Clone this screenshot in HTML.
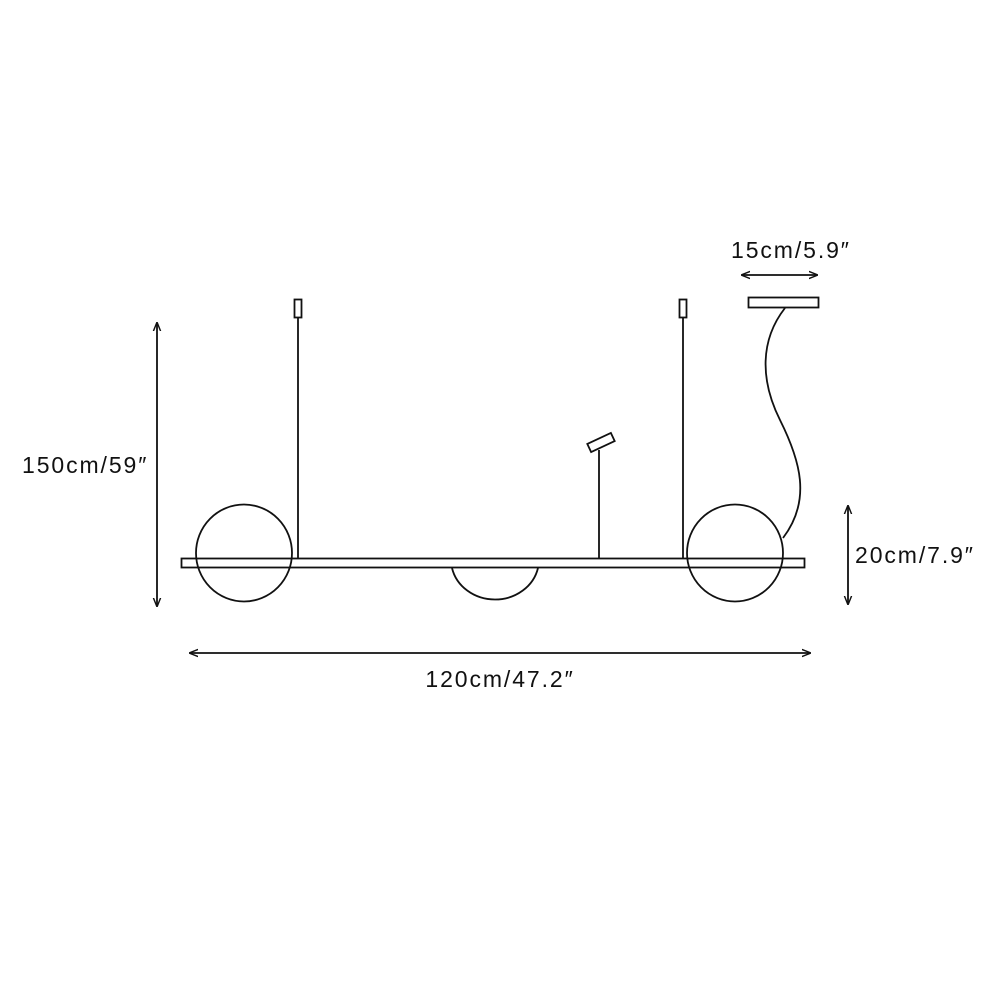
<!DOCTYPE html>
<html><head><style>
html,body{margin:0;padding:0;background:#fff;}
svg{display:block;}
text{font-family:"Liberation Sans",sans-serif;font-size:23px;letter-spacing:1.9px;fill:#111;}
</style></head><body>
<svg width="990" height="990" viewBox="0 0 990 990" xmlns="http://www.w3.org/2000/svg">
<defs>
<marker id="a" viewBox="0 0 10 10" refX="9" refY="5" markerWidth="9" markerHeight="9" orient="auto-start-reverse" markerUnits="userSpaceOnUse">
<path d="M0,1 L10,5 L0,9" fill="none" stroke="#111" stroke-width="1.6"/>
</marker>
</defs>
<g fill="none" stroke="#111" stroke-width="1.8">
<rect x="181.5" y="558.5" width="623" height="9"/>
<ellipse cx="244" cy="553" rx="48" ry="48.5"/>
<ellipse cx="735" cy="553" rx="48" ry="48.5"/>
<path d="M452,568 A44,40 0 0 0 538,568"/>
<line x1="298" y1="318" x2="298" y2="558"/>
<rect x="294.5" y="299.5" width="7" height="18"/>
<line x1="683" y1="318" x2="683" y2="558"/>
<rect x="679.5" y="299.5" width="7" height="18"/>
<line x1="599" y1="450" x2="599" y2="558"/>
<rect x="588" y="438" width="26" height="9" transform="rotate(-25 601 442.5)"/>
<rect x="748.5" y="297.5" width="70" height="10"/>
<path d="M785,308 C760,340 760,380 780,420 C800,460 812,500 783,538"/>
<line x1="157" y1="323" x2="157" y2="606" marker-start="url(#a)" marker-end="url(#a)"/>
<line x1="190" y1="653" x2="810" y2="653" marker-start="url(#a)" marker-end="url(#a)"/>
<line x1="742" y1="275" x2="817" y2="275" marker-start="url(#a)" marker-end="url(#a)"/>
<line x1="848" y1="506" x2="848" y2="604" marker-start="url(#a)" marker-end="url(#a)"/>
</g>
<text x="22" y="473">150cm/59″</text>
<text x="500" y="687" text-anchor="middle">120cm/47.2″</text>
<text x="731" y="258">15cm/5.9″</text>
<text x="855" y="563">20cm/7.9″</text>
</svg>
</body></html>
